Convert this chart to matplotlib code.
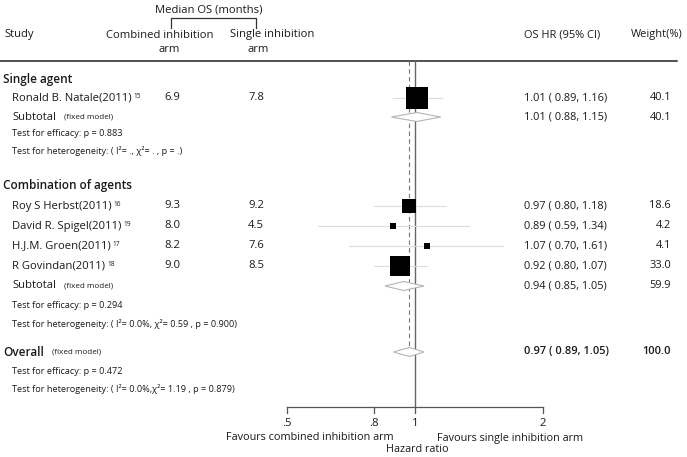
import matplotlib
matplotlib.use("Agg")
import matplotlib.pyplot as plt
from matplotlib.patches import Polygon

plt.rcParams['font.family'] = ['Open Sans', 'DejaVu Sans']

# study level data
studies = ["Ronald B. Natale(2011)", "Roy S Herbst(2011)", "David R. Spigel(2011)",
           "H.J.M. Groen(2011)", "R Govindan(2011)"]
refs = ["15", "16", "19", "17", "18"]
os_combined = [6.9, 9.3, 8.0, 8.2, 9.0]
os_single = [7.8, 9.2, 4.5, 7.6, 8.5]
hr = [1.01, 0.97, 0.89, 1.07, 0.92]
hr_lo = [0.89, 0.80, 0.59, 0.70, 0.80]
hr_hi = [1.16, 1.18, 1.34, 1.61, 1.07]
weight = [40.1, 18.6, 4.2, 4.1, 33.0]

# subgroups
groups = ["Single agent", "Combination of agents"]
sub_hr = [1.01, 0.94]
sub_lo = [0.88, 0.85]
sub_hi = [1.15, 1.05]
sub_weight = [40.1, 59.9]
sub_p = ["0.883", "0.294"]
sub_het = ["( I²= ., χ²= . , p = .)", "( I²= 0.0%, χ²= 0.59 , p = 0.900)"]

# overall
all_hr, all_lo, all_hi, all_weight = 0.97, 0.89, 1.05, 100.0
all_p = "0.472"
all_het = "( I²= 0.0%,χ²= 1.19 , p = 0.879)"

ticks = [0.5, 0.8, 1, 2]
tick_labels = [".5", ".8", "1", "2"]

# layout (pixel rows)
W, H = 687, 457
group_y = [80, 185]
study_y = [98, 206, 226, 246, 266]
sub_y = [117, 286]
eff_y = [134, 306]
het_y = [151, 324]
overall_y, overall_eff_y, overall_het_y = 352, 372, 389
axis_y = 407

txt = '#1a1a1a'
fs = 8.1
fs_num = 7.9
fs_small = 6.6
fs_tiny = 5.8
fs_bold = 8.5

fig = plt.figure(figsize=(W / 100, H / 100), dpi=100)
ax = fig.add_axes([0, 0, 1, 1])
ax.set_xlim(0, W)
ax.set_ylim(H, 0)
ax.axis('off')

fax = fig.add_axes([287 / W, 0, 256 / W, 1])
fax.set_xscale('log')
fax.set_xlim(0.5, 2)
fax.set_ylim(H, 0)
fax.axis('off')

# header
ax.text(209, 10, "Median OS (months)", fontsize=fs, color=txt, ha='center', va='center')
ax.plot([171, 171, 256, 256], [28, 18, 18, 28], color='#333333', lw=0.9)
ax.text(4, 35, "Study", fontsize=fs, color=txt, va='center')
ax.text(160, 35, "Combined inhibition", fontsize=fs, color=txt, ha='center', va='center')
ax.text(169, 50, "arm", fontsize=fs, color=txt, ha='center', va='center')
ax.text(272, 35, "Single inhibition", fontsize=fs, color=txt, ha='center', va='center')
ax.text(258, 50, "arm", fontsize=fs, color=txt, ha='center', va='center')
ax.text(562, 35, "OS HR (95% CI)", fontsize=fs_num, color=txt, ha='center', va='center')
ax.text(657, 35, "Weight(%)", fontsize=fs_num, color=txt, ha='center', va='center')
ax.plot([0, 677], [61, 61], color='#222222', lw=1.1)

# reference lines
fax.plot([1, 1], [61, axis_y], color='#666666', lw=1.0, clip_on=False)
fax.plot([all_hr, all_hr], [61, overall_y - 4], color='#777777', lw=0.8,
         ls=(0, (4, 3)), clip_on=False)


def diamond(est, lo, hi, y):
    d = Polygon([(lo, y), (est, y - 4.5), (hi, y), (est, y + 4.5)], closed=True,
                facecolor='white', edgecolor='#b5b5b5', lw=0.8, clip_on=False, zorder=3)
    fax.add_patch(d)


for g in range(2):
    ax.text(3, group_y[g], groups[g], fontsize=fs_bold, fontweight='semibold', color=txt,
            va='center')
    t = ax.text(12, sub_y[g], "Subtotal", fontsize=fs, color=txt, va='center')
    ax.annotate("(fixed model)", xy=(1, 0.5), xycoords=t, xytext=(6, 0),
                textcoords='offset points', fontsize=fs_tiny, color=txt, va='center')
    diamond(sub_hr[g], sub_lo[g], sub_hi[g], sub_y[g])
    ax.text(524, sub_y[g], f"{sub_hr[g]:.2f} ( {sub_lo[g]:.2f}, {sub_hi[g]:.2f})",
            fontsize=fs_num, color=txt, va='center')
    ax.text(671, sub_y[g], f"{sub_weight[g]:.1f}", fontsize=fs_num, color=txt,
            ha='right', va='center')
    ax.text(12, eff_y[g], f"Test for efficacy: p = {sub_p[g]}", fontsize=fs_small,
            color=txt, va='center')
    ax.text(12, het_y[g], "Test for heterogeneity: " + sub_het[g], fontsize=fs_small,
            color=txt, va='center')

for i, name in enumerate(studies):
    y = study_y[i]
    t = ax.text(12, y, name, fontsize=fs, color=txt, va='center')
    ax.annotate(refs[i], xy=(1, 1), xycoords=t, xytext=(1.5, -0.5),
                textcoords='offset points', fontsize=4.8, color=txt, va='top')
    ax.text(172, y, f"{os_combined[i]:.1f}", fontsize=fs, color=txt, ha='center', va='center')
    ax.text(256, y, f"{os_single[i]:.1f}", fontsize=fs, color=txt, ha='center', va='center')
    fax.plot([hr_lo[i], hr_hi[i]], [y, y], color='#dcdcdc', lw=0.8, clip_on=False, zorder=2)
    fax.scatter([hr[i]], [y], marker='s', s=5.8 * weight[i], color='black', lw=0,
                clip_on=False, zorder=4)
    ax.text(524, y, f"{hr[i]:.2f} ( {hr_lo[i]:.2f}, {hr_hi[i]:.2f})", fontsize=fs_num,
            color=txt, va='center')
    ax.text(671, y, f"{weight[i]:.1f}", fontsize=fs_num, color=txt, ha='right', va='center')

# overall
t = ax.text(3, overall_y, "Overall", fontsize=fs_bold, fontweight='semibold', color=txt,
            va='center')
ax.annotate("(fixed model)", xy=(1, 0.5), xycoords=t, xytext=(6, 0),
            textcoords='offset points', fontsize=fs_tiny, color=txt, va='center')
diamond(all_hr, all_lo, all_hi, overall_y)
ax.text(524, overall_y, f"{all_hr:.2f} ( {all_lo:.2f}, {all_hi:.2f})", fontsize=fs_num,
        fontweight='semibold', color=txt, va='center')
ax.text(671, overall_y, f"{all_weight:.1f}", fontsize=fs_num, fontweight='semibold',
        color=txt, ha='right', va='center')
ax.text(12, overall_eff_y, f"Test for efficacy: p = {all_p}", fontsize=fs_small,
        color=txt, va='center')
ax.text(12, overall_het_y, "Test for heterogeneity: " + all_het, fontsize=fs_small,
        color=txt, va='center')

# hazard ratio axis
fax.plot([ticks[0], ticks[-1]], [axis_y, axis_y], color='#555555', lw=0.9, clip_on=False)
for tk, lab in zip(ticks, tick_labels):
    fax.plot([tk, tk], [axis_y, axis_y + 6], color='#555555', lw=0.9, clip_on=False)
    fax.text(tk, 424, lab, fontsize=fs, color=txt, ha='center', va='center')
ax.text(394, 438, "Favours combined inhibition arm", fontsize=7.8, color=txt, ha='right',
        va='center')
ax.text(437, 438, "Favours single inhibition arm", fontsize=7.8, color=txt, ha='left',
        va='center')
ax.text(417, 450, "Hazard ratio", fontsize=7.8, color=txt, ha='center', va='center')

fig.savefig("out.png", dpi=100, facecolor='white')
